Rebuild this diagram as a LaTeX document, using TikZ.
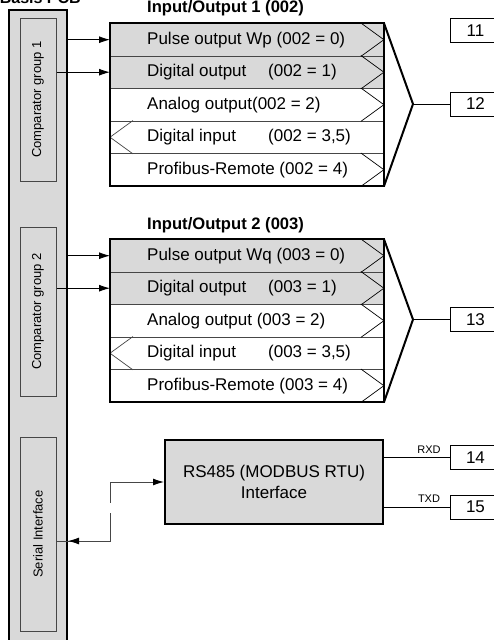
\documentclass[tikz,border=0pt]{standalone}
\usepackage{fontspec}
\setmainfont{Liberation Sans}
\usetikzlibrary{arrows.meta}
\definecolor{panel}{RGB}{217,217,217}
\definecolor{edge}{RGB}{70,70,70}
\begin{document}
\begin{tikzpicture}[x=1pt,y=-1pt,
  rowbox/.style={draw=edge, line width=0.9pt, minimum width=273pt, minimum height=32.5pt, inner sep=0pt, anchor=north west},
  rowtext/.style={anchor=west, inner sep=0pt, font=\fontsize{17}{20}\selectfont},
  head/.style={anchor=base west, inner sep=0pt, font=\bfseries\fontsize{16.6}{19}\selectfont},
  frame/.style={draw=black, line width=2pt},
  chev/.style={draw=black, line width=0.7pt},
  lchev/.style={draw=edge, line width=0.7pt},
  arr/.style={draw=black, line width=0.9pt, -{Latex[length=11pt,width=7pt]}},
  sline/.style={draw=edge, line width=0.9pt},
  stip/.style={draw=edge, line width=0.9pt, -{Latex[length=11pt,width=7pt,color=black]}},
  pin/.style={draw=black, line width=0.9pt, minimum width=50pt, minimum height=24pt, inner sep=0pt, anchor=west, fill=white, font=\fontsize{17}{20}\selectfont},
  inbox/.style={draw=edge, line width=1pt, fill=panel, rotate=90, inner sep=0pt, minimum height=36pt, font=\fontsize{13}{15}\selectfont},
  small/.style={anchor=base, inner sep=0pt, font=\fontsize{11}{13}\selectfont},
]
\useasboundingbox (0,0) rectangle (494,640);

% Basis PCB panel
\node[anchor=base east, inner sep=0pt, font=\bfseries\fontsize{16}{19}\selectfont] (title) at (81,3) {Basis PCB};
\node[frame, fill=panel, minimum width=58pt, minimum height=660pt, anchor=north west, inner sep=0pt] (pcb) at (8,9) {};
\node[inbox, minimum width=163pt] (cg1) at (38,99.5) {Comparator group 1};
\node[inbox, minimum width=169pt] (cg2) at (38,311.5) {Comparator group 2};
\node[inbox, minimum width=194pt] (si) at (38,534) {Serial Interface};

% Input/Output 1
\node[head] (h1) at (147,12.7) {Input/Output 1 (002)};
\node[rowbox, fill=panel] (r11) at (110,23) {};
\node[rowbox, fill=panel] (r12) at (110,55.5) {};
\node[rowbox, fill=white] (r13) at (110,88) {};
\node[rowbox, fill=white] (r14) at (110,120.5) {};
\node[rowbox, fill=white] (r15) at (110,153) {};
\foreach \r in {r11,r12,r13,r15}{
  \draw[chev] ([xshift=-23pt]\r.north east) -- (\r.east) -- ([xshift=-23pt]\r.south east);
}
\draw[lchev] ([xshift=23pt]r14.north west) -- (r14.west) -- ([xshift=23pt]r14.south west);
\draw[frame] (r11.north west) rectangle (r15.south east);
\node[rowtext] (t11) at ([xshift=37pt]r11.west) {Pulse output Wp (002 = 0)};
\node[rowtext] (t12) at ([xshift=37pt]r12.west) {\makebox[121pt][l]{Digital output}(002 = 1)};
\node[rowtext] (t13) at ([xshift=37pt]r13.west) {Analog output(002 = 2)};
\node[rowtext] (t14) at ([xshift=37pt]r14.west) {\makebox[121pt][l]{Digital input}(002 = 3,5)};
\node[rowtext] (t15) at ([xshift=37pt]r15.west) {Profibus-Remote (002 = 4)};

% Input/Output 2
\node[head] (h2) at (147,229) {Input/Output 2 (003)};
\node[rowbox, fill=panel] (r21) at (110,239) {};
\node[rowbox, fill=panel] (r22) at (110,271.5) {};
\node[rowbox, fill=white] (r23) at (110,304) {};
\node[rowbox, fill=white] (r24) at (110,336.5) {};
\node[rowbox, fill=white] (r25) at (110,369) {};
\foreach \r in {r21,r22,r23,r25}{
  \draw[chev] ([xshift=-23pt]\r.north east) -- (\r.east) -- ([xshift=-23pt]\r.south east);
}
\draw[lchev] ([xshift=23pt]r24.north west) -- (r24.west) -- ([xshift=23pt]r24.south west);
\draw[frame] (r21.north west) rectangle (r25.south east);
\node[rowtext] (t21) at ([xshift=37pt]r21.west) {Pulse output Wq (003 = 0)};
\node[rowtext] (t22) at ([xshift=37pt]r22.west) {\makebox[121pt][l]{Digital output}(003 = 1)};
\node[rowtext] (t23) at ([xshift=37pt]r23.west) {Analog output (003 = 2)};
\node[rowtext] (t24) at ([xshift=37pt]r24.west) {\makebox[121pt][l]{Digital input}(003 = 3,5)};
\node[rowtext] (t25) at ([xshift=37pt]r25.west) {Profibus-Remote (003 = 4)};

% terminals
\node[pin] (p11) at (450,30.5) {11};
\node[pin] (p12) at (450,104) {12};
\node[pin] (p13) at (450,319.5) {13};
\node[pin] (p14) at (450,457.5) {14};
\node[pin] (p15) at (450,507) {15};

% funnels
\coordinate (f1) at (413,104);
\coordinate (f2) at (413,319.5);
\draw[frame, line join=miter] (r11.north east) -- (f1) -- (r15.south east);
\draw[frame, line join=miter] (r21.north east) -- (f2) -- (r25.south east);
\draw[line width=0.9pt] (f1) -- (p12.west);
\draw[line width=0.9pt] (f2) -- (p13.west);

% comparator arrows
\draw[arr] (r11.west -| pcb.east) -- (r11.west);
\draw[arr] (r12.west -| cg1.south) -- (r12.west);
\draw[arr] (r21.west -| pcb.east) -- (r21.west);
\draw[arr] (r22.west -| cg2.south) -- (r22.west);

% RS485
\node[frame, fill=panel, minimum width=218pt, minimum height=84pt, inner sep=0pt, align=center, font=\fontsize{17}{21}\selectfont] (rs) at (274,482) {RS485 (MODBUS RTU)\\Interface};
\draw[line width=0.9pt] (rs.east |- p14.west) -- (p14.west);
\draw[line width=0.9pt] (rs.east |- p15.west) -- (p15.west);
\node[small] (rxd) at (429,453) {RXD};
\node[small] (txd) at (429,502) {TXD};

% serial connection
\coordinate (k1) at (110,482);
\coordinate (k2) at (110,503);
\coordinate (k3) at (110,513);
\coordinate (k4) at (110,541);
\draw[stip] (k1) -- (k1 -| rs.west);
\draw[sline] (k1) -- (k2);
\draw[sline] (k3) -- (k4) -- (k4 -| si.south);
\draw[stip] (k4) -- (k4 -| pcb.east);
\end{tikzpicture}
\end{document}
